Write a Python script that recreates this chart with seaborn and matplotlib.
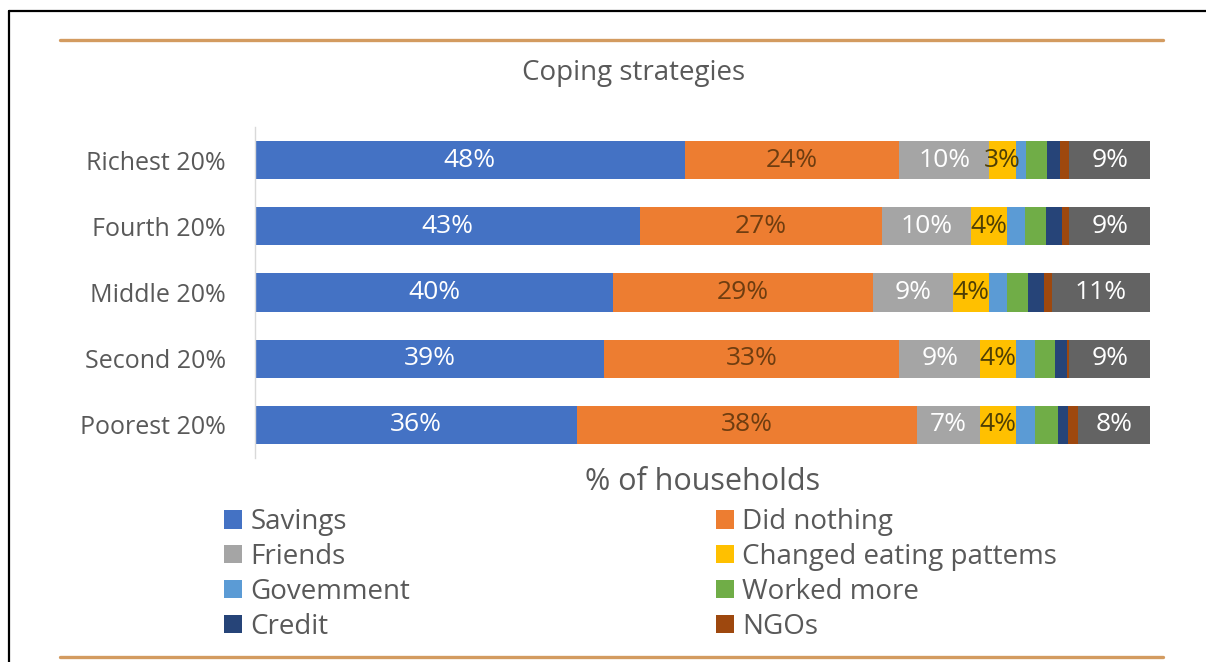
import matplotlib
matplotlib.use("Agg")
import matplotlib.pyplot as plt
from matplotlib.lines import Line2D
from matplotlib.patches import Patch
import seaborn as sns
import pandas as pd
import numpy as np

categories = ["Richest 20%", "Fourth 20%", "Middle 20%", "Second 20%", "Poorest 20%"]
savings = [48, 43, 40, 39, 36]
did_nothing = [24, 27, 29, 33, 38]
friends = [10, 10, 9, 9, 7]
changed_eating = [3, 4, 4, 4, 4]
government = [1.2, 2.0, 2.0, 2.2, 2.1]
worked_more = [2.3, 2.4, 2.4, 2.2, 2.6]
credit = [1.4, 1.8, 1.8, 1.3, 1.1]
ngos = [1.1, 0.8, 0.8, 0.3, 1.2]
other = [9, 9, 11, 9, 8]

series_names = ["Savings", "Did nothing", "Friends", "Changed eating pattems",
                "Government", "Worked more", "Credit", "NGOs", "Other"]
series_values = [savings, did_nothing, friends, changed_eating, government,
                 worked_more, credit, ngos, other]
colors = ["#4472C4", "#ED7D31", "#A5A5A5", "#FFC000", "#5B9BD5",
          "#70AD47", "#264478", "#9E480E", "#636363"]
label_colors = {"Savings": "white", "Did nothing": "#6E3D10", "Friends": "white",
                "Changed eating pattems": "#4F3F05", "Other": "white"}
legend_names = ["Savings", "Did nothing", "Friends", "Changed eating pattems",
                "Govemment", "Worked more", "Credit", "NGOs"]

sns.set_theme(style="white")
plt.rcParams["font.family"] = ["Open Sans", "DejaVu Sans"]

W, H = 1206, 662
fig = plt.figure(figsize=(W / 100, H / 100), dpi=100)
ax = fig.add_axes([255 / W, 1 - 458 / H, (1150 - 255) / W, (458 - 127) / H])

cum = np.zeros(len(categories))
cums = []
for vals in series_values:
    start = cum.copy()
    cum = cum + np.array(vals)
    cums.append((start, cum.copy()))

# draw cumulative bars from longest to shortest (stacking)
for i in range(len(series_names) - 1, -1, -1):
    d = pd.DataFrame({"category": categories, "value": cums[i][1]})
    sns.barplot(data=d, y="category", x="value", order=categories, color=colors[i],
                width=0.575, orient="h", ax=ax, saturation=1, linewidth=0)

# labels
for i, name in enumerate(series_names):
    if name not in label_colors:
        continue
    start, end = cums[i]
    for j, v in enumerate(series_values[i]):
        ax.text((start[j] + end[j]) / 2, j, f"{v:.0f}%", ha="center", va="center",
                fontsize=19, color=label_colors[name])

ax.set_xlim(0, 100)
ax.set_ylim(4.5, -0.5)
ax.set_xticks([])
ax.set_xlabel("")
ax.set_ylabel("")
for s in ["top", "right", "bottom"]:
    ax.spines[s].set_visible(False)
ax.spines["left"].set_color("#D9D9D9")
ax.spines["left"].set_linewidth(1.0)
ax.tick_params(axis="y", which="major", length=0, labelsize=18, labelcolor="#595959", pad=21)
ax.set_yticks(np.arange(-0.5, 5.0, 1.0), minor=True)
ax.tick_params(axis="y", which="minor", length=5, color="#D9D9D9", width=1, direction="out")

# title and axis title
fig.text(634 / W, 1 - 73 / H, "Coping strategies", ha="center", va="center",
         fontsize=20, color="#595959")
fig.text(703 / W, 1 - 482 / H, "% of households", ha="center", va="center",
         fontsize=22, color="#595959")

# legends (two columns)
handles = [Patch(facecolor=c, edgecolor="none") for c in colors[:8]]
left_idx = [0, 2, 4, 6]
right_idx = [1, 3, 5, 7]
common = dict(loc="upper left", frameon=False, fontsize=20, handlelength=0.65,
              handleheight=0.65, handletextpad=0.3, labelspacing=0.25,
              borderpad=0, borderaxespad=0, labelcolor="#595959")
leg1 = fig.legend([handles[k] for k in left_idx], [legend_names[k] for k in left_idx],
                  bbox_to_anchor=(224 / W, 1 - 508 / H), **common)
leg2 = fig.legend([handles[k] for k in right_idx], [legend_names[k] for k in right_idx],
                  bbox_to_anchor=(716 / W, 1 - 508 / H), **common)

# decorative lines
orange = "#D39B60"
fig.add_artist(Line2D([60 / W, 1163 / W], [1 - 40 / H, 1 - 40 / H], color=orange, lw=2.4))
fig.add_artist(Line2D([60 / W, 1163 / W], [1 - 657 / H, 1 - 657 / H], color=orange, lw=2.4))
fig.add_artist(Line2D([9 / W, 9 / W], [0, 1 - 11 / H], color="black", lw=1.6))
fig.add_artist(Line2D([9 / W, 1], [1 - 11 / H, 1 - 11 / H], color="black", lw=1.6))

fig.savefig("out.png", dpi=100)
